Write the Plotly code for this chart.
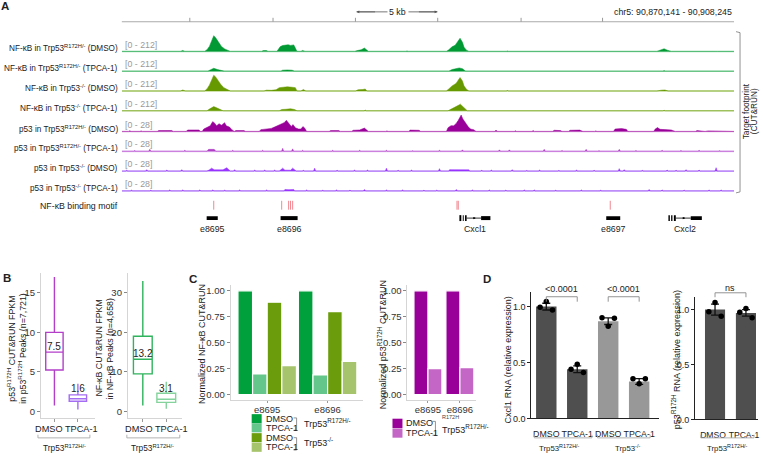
import plotly.graph_objects as go

W, H = 763, 460
FONT = "Arial, Liberation Sans, Helvetica, sans-serif"

# ====================== DATA ======================
# ---- Panel A: genome browser ----
chrom = "chr5"
region_start = 90870141
region_end = 90908245
region_len_kb = (region_end - region_start) / 1000.0
ruler_ticks_kb = [4.23, 9.41, 14.54, 19.66, 24.85, 29.92]
scale_bar_label = "5 kb"

track_labels = [
    "NF-κB in Trp53<sup>R172H/-</sup> (DMSO)",
    "NF-κB in Trp53<sup>R172H/-</sup> (TPCA-1)",
    "NF-κB in Trp53<sup>-/-</sup> (DMSO)",
    "NF-κB in Trp53<sup>-/-</sup> (TPCA-1)",
    "p53 in Trp53<sup>R172H/-</sup> (DMSO)",
    "p53 in Trp53<sup>R172H/-</sup> (TPCA-1)",
    "p53 in Trp53<sup>-/-</sup> (DMSO)",
    "p53 in Trp53<sup>-/-</sup> (TPCA-1)",
]
track_scale_max = [212, 212, 212, 212, 28, 28, 28, 28]
track_colors = ["#009933", "#009933", "#669900", "#669900",
                "#990099", "#b03cc6", "#9933ff", "#9933ff"]
track_base_colors = ["#a3ddb5", "#a3ddb5", "#c0da93", "#c0da93",
                     "#e3b3e5", "#ddb3ec", "#cfb5f7", "#cfb5f7"]

# coverage vertices (kb from region start, signal)
t1_peaks = [
    [(3.65, 0), (3.79, 12), (3.92, 0)],
    [(5.15, 0), (5.3, 20), (5.45, 60), (5.6, 140), (5.72, 188), (5.85, 160), (6.0, 110), (6.2, 60), (6.4, 30), (6.6, 15), (6.75, 0)],
    [(8.7, 0), (8.8, 10), (9.0, 10), (9.1, 0)],
    [(9.65, 0), (9.75, 25), (9.85, 55), (10.0, 70), (10.2, 75), (10.35, 80), (10.5, 72), (10.7, 78), (10.8, 40), (10.9, 0)],
    [(11.15, 0), (11.25, 12), (11.4, 0)],
    [(14.5, 0), (14.65, 10), (14.9, 20), (15.1, 40), (15.25, 10), (15.35, 0)],
    [(20.2, 0), (20.35, 20), (20.55, 55), (20.75, 75), (20.9, 110), (21.05, 157), (21.2, 110), (21.3, 50), (21.45, 15), (21.6, 0)],
    [(33.3, 0), (33.5, 15), (33.75, 32), (33.95, 15), (34.2, 0)],
]
t1_spikes = [(17.75, 5), (24.0, 5), (25.2, 4), (30.6, 6), (30.85, 5), (37.0, 3)]

t2_peaks = [
    [(5.35, 0), (5.5, 15), (5.72, 35), (5.95, 20), (6.2, 8), (6.4, 0)],
    [(9.9, 0), (10.0, 12), (10.3, 15), (10.6, 12), (10.75, 0)],
    [(20.35, 0), (20.55, 20), (20.8, 30), (21.0, 39), (21.2, 30), (21.4, 0)],
]
t2_spikes = [(8.9, 4), (15.1, 6), (33.75, 8)]

t3_peaks = [
    [(3.65, 0), (3.79, 12), (3.95, 0)],
    [(5.15, 0), (5.3, 25), (5.45, 70), (5.6, 150), (5.72, 188), (5.85, 165), (6.0, 120), (6.15, 80), (6.35, 40), (6.55, 20), (6.75, 0)],
    [(8.85, 0), (9.0, 10), (9.3, 8), (9.6, 15), (9.8, 40), (10.0, 45), (10.3, 50), (10.6, 45), (10.8, 40), (10.9, 0)],
    [(11.15, 0), (11.3, 18), (11.45, 0)],
    [(14.55, 0), (14.7, 15), (15.0, 18), (15.15, 24), (15.25, 0)],
    [(20.2, 0), (20.35, 25), (20.55, 60), (20.8, 90), (20.95, 130), (21.05, 160), (21.2, 120), (21.3, 60), (21.45, 20), (21.6, 0)],
    [(33.3, 0), (33.6, 10), (33.8, 12), (34.0, 0)],
]
t3_spikes = [(24.0, 6), (30.6, 6), (30.85, 5)]

t4_peaks = [
    [(5.3, 0), (5.45, 20), (5.6, 40), (5.72, 50), (5.9, 35), (6.1, 15), (6.3, 0)],
    [(9.8, 0), (9.95, 15), (10.2, 18), (10.5, 24), (10.75, 15), (10.9, 0)],
    [(20.3, 0), (20.5, 20), (20.75, 40), (20.95, 65), (21.07, 79), (21.2, 55), (21.35, 20), (21.5, 0)],
]
t4_spikes = [(15.15, 8), (33.75, 6)]

t5_peaks = [
    [(2.2, 0), (2.3, 1.5), (3.1, 1.6), (3.2, 0)],
    [(4.0, 0), (4.1, 2.5), (4.5, 3.1), (4.8, 2.5), (4.9, 0)],
    [(5.0, 0), (5.1, 4), (5.3, 7), (5.5, 9), (5.65, 15.6), (5.75, 14), (5.9, 9), (6.05, 12.4), (6.2, 10), (6.4, 14), (6.5, 9), (6.7, 7), (6.85, 3), (6.95, 0)],
    [(7.0, 0), (7.1, 1.5), (7.6, 1.5), (7.7, 0)],
    [(8.55, 0), (8.65, 3), (9.0, 4), (9.3, 5), (9.5, 7), (9.7, 9), (9.9, 12), (10.1, 14), (10.24, 17.6), (10.4, 13), (10.55, 8), (10.65, 10.9), (10.8, 6), (11.0, 4), (11.15, 4), (11.27, 7.8), (11.4, 5), (11.5, 0)],
    [(12.9, 0), (13.0, 1.5), (13.5, 1.5), (13.6, 0)],
    [(14.3, 0), (14.4, 2), (14.8, 2.5), (15.1, 5.4), (15.25, 2.5), (15.35, 0)],
    [(17.85, 0), (17.95, 2.3), (18.5, 2), (18.6, 0)],
    [(20.2, 0), (20.3, 6), (20.49, 9.3), (20.65, 9), (20.8, 12.4), (20.95, 18), (21.12, 26), (21.22, 20), (21.32, 15.6), (21.45, 10), (21.55, 7.8), (21.7, 4), (21.9, 3), (22.05, 0)],
    [(26.8, 0), (26.92, 2), (27.3, 1.5), (27.4, 0)],
    [(27.8, 0), (27.9, 2), (28.5, 2.3), (28.7, 0)],
    [(30.6, 0), (30.7, 4), (31.1, 4.7), (31.4, 3.5), (31.5, 0)],
    [(33.1, 0), (33.2, 4), (33.34, 6.2), (33.5, 3.5), (33.8, 3.1), (34.2, 2.5), (34.45, 0)],
    [(35.7, 0), (35.8, 1.5), (36.1, 0)],
    [(36.3, 0), (36.5, 1), (37.0, 1), (37.1, 0)],
]
t5_spikes = [(0.5, 1.2), (1.2, 1.0), (12.3, 1.0), (16.5, 1.0), (19.2, 1.0), (23.29, 2.3), (24.5, 1.2), (25.6, 1.5), (29.5, 1.0)]

t6_peaks = [
    [(5.3, 0), (5.4, 3.1), (5.75, 3.1), (5.85, 0)],
]
t6_spikes = [(0.8, 1.2), (1.74, 3.1), (2.6, 1.0), (3.92, 1.6), (6.9, 1.6), (8.76, 1.6), (10.01, 4.7), (10.63, 3.9),
             (11.25, 1.6), (12.4, 1.0), (13.12, 1.6), (14.8, 1.6), (16.47, 1.6), (18.1, 1.0), (19.77, 1.6), (21.2, 2.3),
             (22.3, 1.0), (23.5, 2.3), (24.12, 2.3), (25.2, 1.0), (26.29, 3.1), (27.4, 1.2), (28.9, 3.1), (29.7, 1.0),
             (30.96, 3.1), (32.0, 1.2), (33.63, 1.6), (34.8, 1.2), (35.93, 1.6), (37.2, 1.0)]

t7_peaks = [
    [(5.3, 0), (5.45, 2), (5.59, 4.7), (5.75, 2), (5.95, 2), (6.09, 3.1), (6.3, 2), (6.53, 5.4), (6.65, 1.5), (6.75, 0)],
    [(9.8, 0), (9.85, 1.5), (10.01, 4.7), (10.15, 1.5), (10.5, 1.5), (10.63, 4.7), (10.75, 1.5), (10.85, 0)],
    [(20.35, 0), (20.4, 2.3), (20.8, 2.0), (21.1, 2.5), (21.6, 2.0), (21.65, 0)],
]
t7_spikes = [(0.3, 1.5), (1.55, 2.3), (2.8, 1.6), (3.73, 2.3), (7.02, 2.3), (8.27, 1.6), (8.89, 1.6), (9.51, 1.6),
             (11.3, 1.2), (12.0, 4.7), (13.4, 1.2), (14.48, 1.6), (15.29, 1.6), (16.47, 4.7), (17.2, 1.2), (18.03, 1.6),
             (19.77, 3.9), (22.4, 1.2), (23.0, 1.6), (24.3, 2.3), (25.2, 1.0), (26.0, 1.6), (27.2, 1.0), (28.3, 1.6),
             (29.4, 1.2), (30.96, 3.9), (31.27, 2.3), (32.4, 1.2), (33.94, 1.6), (34.5, 1.2), (35.12, 2.3), (35.93, 1.6),
             (36.99, 5.4)]

t8_peaks = [
    [(10.1, 0), (10.15, 2.3), (10.4, 2.0), (10.7, 2.3), (10.75, 0)],
]
t8_spikes = [(0.6, 1.2), (1.8, 1.0), (2.98, 1.6), (3.79, 1.6), (4.85, 1.6), (5.66, 1.6), (6.4, 1.2), (7.33, 1.6),
             (8.2, 1.0), (9.01, 1.6), (11.5, 1.6), (12.5, 1.0), (13.36, 1.6), (14.2, 1.2), (15.1, 2.3), (16.47, 1.6),
             (17.47, 1.6), (18.8, 1.0), (19.6, 1.2), (20.82, 2.3), (21.82, 1.6), (22.87, 1.6), (23.9, 1.2), (25.05, 1.6),
             (25.67, 1.6), (27.0, 1.0), (28.6, 1.6), (29.8, 1.0), (31.3, 1.0), (32.82, 2.3), (33.63, 1.6), (35.0, 1.2),
             (36.55, 1.6), (37.3, 1.6)]

track_peaks = [t1_peaks, t2_peaks, t3_peaks, t4_peaks, t5_peaks, t6_peaks, t7_peaks, t8_peaks]
track_spikes = [t1_spikes, t2_spikes, t3_spikes, t4_spikes, t5_spikes, t6_spikes, t7_spikes, t8_spikes]

motif_label = "NF-κB binding motif"
motif_kb = [5.72, 9.95, 10.38, 10.5, 10.63, 20.86, 20.94, 30.4]
enh_names = ["e8695", "e8696", "e8697"]
enh_start = [5.28, 9.88, 30.15]
enh_end = [5.97, 10.94, 31.02]
gene_names = ["Cxcl1", "Cxcl2"]
gene_exons = [
    [(21.01, 21.13), (21.22, 21.28), (21.36, 21.46), (22.36, 22.94)],
    [(34.02, 34.11), (34.19, 34.27), (34.36, 34.48), (35.41, 36.10)],
]

# ---- Panel B: box plots ----
b_groups = ["DMSO", "TPCA-1"]
b_p53_lo = [0.75, 0.25]
b_p53_q1 = [5.25, 1.3]
b_p53_med = [7.5, 1.6]
b_p53_q3 = [10.0, 2.1]
b_p53_hi = [17.0, 3.5]
b_nfkb_lo = [1.5, 0.7]
b_nfkb_q1 = [9.5, 2.3]
b_nfkb_med = [13.2, 3.1]
b_nfkb_q3 = [19.0, 4.6]
b_nfkb_hi = [33.0, 7.5]
b_p53_colors = ["#b33fc9", "#a36cf2"]
b_nfkb_colors = ["#2fb35c", "#84d39c"]
b_p53_ticks = [0, 5, 10, 15]
b_nfkb_ticks = [0, 10, 20, 30]

# ---- Panel C: normalized CUT&RUN ----
c_sites = ["e8695", "e8696"]
c_nfkb_conditions = ["DMSO", "TPCA-1", "DMSO", "TPCA-1"]
c_nfkb_values = [[1.00, 1.00], [0.20, 0.19], [0.89, 0.80], [0.28, 0.32]]
c_nfkb_colors = ["#00a03c", "#64c68a", "#6a9c0c", "#a6c46c"]
c_p53_conditions = ["DMSO", "TPCA-1"]
c_p53_values = [[1.00, 1.00], [0.25, 0.26]]
c_p53_colors = ["#990099", "#c466c6"]
c_ticks = [0, 0.25, 0.5, 0.75, 1.0]

# ---- Panel D: RNA ----
d_conditions = ["DMSO", "TPCA-1", "DMSO", "TPCA-1"]
d_cxcl1_mean = [1.00, 0.44, 0.87, 0.33]
d_cxcl1_sem = [0.03, 0.03, 0.03, 0.025]
d_cxcl1_reps = [[0.995, 0.97, 1.045], [0.44, 0.41, 0.485], [0.90, 0.895, 0.825], [0.355, 0.355, 0.31]]
d_cxcl1_colors = ["#4f4f4f", "#4f4f4f", "#989898", "#989898"]
d_cxcl1_p = ["<0.0001", "<0.0001"]
d_p53_conditions = ["DMSO", "TPCA-1"]
d_p53_mean = [1.00, 0.97]
d_p53_sem = [0.05, 0.03]
d_p53_reps = [[0.98, 0.94, 1.065], [0.975, 0.925, 1.01]]
d_p53_colors = ["#4f4f4f", "#4f4f4f"]
d_p53_p = "ns"
d_ticks = [0, 0.5, 1.0]

# ====================== HELPERS ======================
def PX(px):
    return px / W


def PY(py):
    return 1 - py / H


fig = go.Figure()
shapes = []
ann = []
layout_axes = {}


def text(px, py, s, size=9, color="#222", xanchor="center", yanchor="middle", angle=0):
    ann.append(dict(x=PX(px), y=PY(py), xref="paper", yref="paper", text=s, showarrow=False,
                    xanchor=xanchor, yanchor=yanchor, textangle=angle,
                    font=dict(size=size, color=color, family=FONT)))


def pline(x0, y0, x1, y1, color="#999", width=1):
    shapes.append(dict(type="line", xref="paper", yref="paper", x0=PX(x0), y0=PY(y0), x1=PX(x1), y1=PY(y1),
                       line=dict(color=color, width=width)))


def ppath(points, color="#999", width=1):
    d = "M " + " L ".join(f"{PX(a):.5f},{PY(b):.5f}" for a, b in points)
    shapes.append(dict(type="path", xref="paper", yref="paper", path=d, line=dict(color=color, width=width)))


def prect(x0, y0, x1, y1, color):
    shapes.append(dict(type="rect", xref="paper", yref="paper", x0=PX(x0), y0=PY(y1), x1=PX(x1), y1=PY(y0),
                       fillcolor=color, line=dict(width=0)))


def build_track(peaks, spikes, half_w=0.07):
    pts = [p for pk in peaks for p in pk]
    for c, h in spikes:
        pts += [(c - half_w, 0.0), (c, h), (c + half_w, 0.0)]
    pts.sort(key=lambda p: p[0])
    xs = [0.0] + [p[0] for p in pts] + [region_len_kb]
    ys = [0.0] + [p[1] for p in pts] + [0.0]
    return xs, ys


# ====================== PANEL A ======================
TRACK_X0, TRACK_X1 = 122, 735
track_baseline_px = [52, 72, 92, 112, 133, 153, 173, 193]
TRACK_H = 18

layout_axes["xaxis"] = dict(domain=[PX(TRACK_X0), PX(TRACK_X1)], range=[0, region_len_kb], visible=False,
                            anchor="y", fixedrange=True)
for k in range(8):
    n = k + 1
    yid = "y" if n == 1 else f"y{n}"
    ykey = "yaxis" if n == 1 else f"yaxis{n}"
    b = track_baseline_px[k]
    S = track_scale_max[k]
    lo = -S * 1.5 / TRACK_H
    layout_axes[ykey] = dict(domain=[PY(b + 1.5), PY(b - TRACK_H)], range=[lo, S], visible=False,
                             anchor="x", fixedrange=True)
    shapes.append(dict(type="line", xref="x", yref=yid, x0=0, x1=region_len_kb, y0=0, y1=0, layer="below",
                       line=dict(color=track_base_colors[k], width=1.6)))
    xs, ys = build_track(track_peaks[k], track_spikes[k])
    fig.add_trace(go.Scatter(x=xs, y=ys, mode="lines", fill="tozeroy", fillcolor=track_colors[k],
                             line=dict(color=track_colors[k], width=0.5), xaxis="x", yaxis=yid,
                             hoverinfo="skip"))
    text(120, b - 3, track_labels[k], size=8.2, xanchor="right")
    text(123, b - 7, f"[0 - {S}]", size=8.8, color="#9a9a9a", xanchor="left")

# ruler
pline(TRACK_X0, 22, TRACK_X1, 22, color="#aaaaaa", width=1)
for t in ruler_ticks_kb:
    shapes.append(dict(type="line", xref="x", yref="paper", x0=t, x1=t, y0=PY(22), y1=PY(18),
                       line=dict(color="#999999", width=1)))
# scale bar
text(398, 12, scale_bar_label, size=8.8)
pline(357, 12, 388, 12, color="#555", width=0.8)
pline(409, 12, 438, 12, color="#555", width=0.8)
ann.append(dict(x=PX(357), y=PY(12), xref="paper", yref="paper", ax=20, ay=0, text="", showarrow=True,
                arrowhead=2, arrowsize=0.7, arrowwidth=0.8, arrowcolor="#555"))
ann.append(dict(x=PX(438), y=PY(12), xref="paper", yref="paper", ax=-20, ay=0, text="", showarrow=True,
                arrowhead=2, arrowsize=0.7, arrowwidth=0.8, arrowcolor="#555"))
text(735, 12, f"{chrom}: {region_start:,} - {region_end:,}", size=8.8, xanchor="right")

# right bracket
ppath([(737, 32), (741, 33), (741, 194), (737, 195)], color="#777", width=0.8)
text(746.5, 113, "Target footprint", size=8.3, angle=-90)
text(754.5, 113, "(CUT&RUN)", size=8.3, angle=-90)

# motifs
text(120, 208, motif_label, size=8.8, xanchor="right")
for m in motif_kb:
    shapes.append(dict(type="line", xref="x", yref="paper", x0=m, x1=m, y0=PY(212), y1=PY(203),
                       line=dict(color="#ee7b85", width=0.9)))
# enhancers
for nm, s0, s1 in zip(enh_names, enh_start, enh_end):
    shapes.append(dict(type="rect", xref="x", yref="paper", x0=s0, x1=s1, y0=PY(222.5), y1=PY(218.5),
                       fillcolor="black", line=dict(width=0)))
    ann.append(dict(x=(s0 + s1) / 2, y=PY(232), xref="x", yref="paper", text=nm, showarrow=False,
                    font=dict(size=8.8, color="#222", family=FONT)))
# genes
for nm, exons in zip(gene_names, gene_exons):
    g0, g1 = exons[0][0], exons[-1][1]
    shapes.append(dict(type="line", xref="x", yref="paper", x0=exons[2][1], x1=exons[3][0], y0=PY(220.5),
                       y1=PY(220.5), line=dict(color="black", width=0.8)))
    for i, (e0, e1) in enumerate(exons):
        top, bot = (217.5, 223.5) if i < 3 else (218.5, 222.5)
        shapes.append(dict(type="rect", xref="x", yref="paper", x0=e0, x1=e1, y0=PY(bot), y1=PY(top),
                           fillcolor="black", line=dict(width=0)))
    mid = (exons[2][1] + exons[3][0]) / 2
    ann.append(dict(x=mid + 0.12, y=PY(220.5), xref="x", yref="paper", ax=-4, ay=0, text="",
                    showarrow=True, arrowhead=2, arrowsize=0.6, arrowwidth=0.8, arrowcolor="black"))
    ann.append(dict(x=(g0 + g1) / 2, y=PY(232), xref="x", yref="paper", text=nm, showarrow=False,
                    font=dict(size=8.8, color="#222", family=FONT)))

# ====================== PANEL B ======================
def light_y(dom_px, rng, tickvals, ticktext, anchor, linecolor="#d5d5d5", size=9.5):
    return dict(domain=[PY(dom_px[1]), PY(dom_px[0])], range=rng, anchor=anchor, showline=True,
                linecolor=linecolor, linewidth=1, ticks="outside", ticklen=3, tickcolor="#888",
                tickvals=tickvals, ticktext=ticktext, tickfont=dict(size=size, color="#333", family=FONT),
                showgrid=False, zeroline=False, fixedrange=True)


def light_x(dom_px, rng, anchor, showlabels=False, cats=None, linecolor="#d5d5d5", ticklen=3, standoff=0):
    d = dict(domain=[PX(dom_px[0]), PX(dom_px[1])], range=rng, anchor=anchor, showline=True,
             linecolor=linecolor, linewidth=1, ticks="outside", ticklen=ticklen, tickcolor="#999",
             showticklabels=showlabels, tickfont=dict(size=9.5, color="#333", family=FONT),
             ticklabelstandoff=standoff, tickangle=0, ticklabeloverflow="allow",
             showgrid=False, zeroline=False, fixedrange=True)
    if cats is not None:
        d.update(type="category", categoryorder="array", categoryarray=cats)
    return d


layout_axes["xaxis2"] = light_x((41, 95), [-0.574, 1.723], "y9", cats=b_groups)
layout_axes["yaxis9"] = light_y((276, 423), [-0.875, 17.5], b_p53_ticks, [str(t) for t in b_p53_ticks], "x2")
layout_axes["xaxis3"] = light_x((128, 182), [-0.638, 1.66], "y10", cats=b_groups)
layout_axes["yaxis10"] = light_y((276, 423), [-1.75, 35], b_nfkb_ticks, [str(t) for t in b_nfkb_ticks], "x3")

for i, g in enumerate(b_groups):
    fig.add_trace(go.Box(x=[g], q1=[b_p53_q1[i]], median=[b_p53_med[i]], q3=[b_p53_q3[i]],
                         lowerfence=[b_p53_lo[i]], upperfence=[b_p53_hi[i]], boxpoints=False,
                         line=dict(color=b_p53_colors[i], width=1.4), fillcolor="rgba(255,255,255,0)",
                         width=0.74, whiskerwidth=0, xaxis="x2", yaxis="y9", hoverinfo="skip"))
    fig.add_trace(go.Box(x=[g], q1=[b_nfkb_q1[i]], median=[b_nfkb_med[i]], q3=[b_nfkb_q3[i]],
                         lowerfence=[b_nfkb_lo[i]], upperfence=[b_nfkb_hi[i]], boxpoints=False,
                         line=dict(color=b_nfkb_colors[i], width=1.4), fillcolor="rgba(255,255,255,0)",
                         width=0.8, whiskerwidth=0, xaxis="x3", yaxis="y10", hoverinfo="skip"))

# median labels
ann.append(dict(x=0, y=b_p53_med[0] + 0.75, xref="x2", yref="y9", text=f"{b_p53_med[0]}", showarrow=False,
                font=dict(size=10, color="#222", family=FONT)))
ann.append(dict(x=1, y=b_p53_hi[1] - 0.6, xref="x2", yref="y9", text=f"{b_p53_med[1]}", showarrow=False,
                font=dict(size=10, color="#222", family=FONT)))
ann.append(dict(x=0, y=b_nfkb_med[0] + 1.5, xref="x3", yref="y10", text=f"{b_nfkb_med[0]}", showarrow=False,
                font=dict(size=10, color="#222", family=FONT)))
ann.append(dict(x=1, y=b_nfkb_hi[1] - 1.8, xref="x3", yref="y10", text=f"{b_nfkb_med[1]}", showarrow=False,
                font=dict(size=10, color="#222", family=FONT)))

text(11.5, 352, "p53<sup>R172H</sup> CUT&RUN FPKM", size=8.8, angle=-90)
text(22.5, 352, "in p53<sup>R172H</sup> Peaks (n=7,721)", size=8.8, angle=-90)
text(99.5, 352, "NF-κB CUT&RUN FPKM", size=8.8, angle=-90)
text(110.5, 352, "in NF-κB Peaks (n=4,658)", size=8.8, angle=-90)
text(66.8, 434, "DMSO TPCA-1", size=9.2)
text(156.7, 434, "DMSO TPCA-1", size=9.2)
ppath([(38, 439.5), (38, 442.7), (90, 442.7), (90, 439.5)], color="#aaa", width=0.9)
ppath([(127, 439.5), (127, 442.7), (180, 442.7), (180, 439.5)], color="#aaa", width=0.9)
text(65, 453, "Trp53<sup>R172H/-</sup>", size=8.3)
text(153, 453, "Trp53<sup>R172H/-</sup>", size=8.3)

# ====================== PANEL C ======================
layout_axes["xaxis4"] = light_x((231, 363), [-0.603, 1.579], "y11", showlabels=True, cats=c_sites, ticklen=2,
                                standoff=-1)
layout_axes["yaxis11"] = light_y((288, 404), [-0.0476, 1.057], c_ticks, [f"{t:.2f}" for t in c_ticks], "x4")
layout_axes["xaxis5"] = light_x((408, 477), [-0.64, 1.516], "y12", showlabels=True, cats=c_sites, ticklen=2,
                                standoff=-1)
layout_axes["yaxis12"] = light_y((288, 404), [-0.0476, 1.057], c_ticks, [f"{t:.2f}" for t in c_ticks], "x5")

for i, vals in enumerate(c_nfkb_values):
    fig.add_trace(go.Bar(x=c_sites, y=vals, offset=-0.483 + i * 0.242, width=0.242,
                         marker=dict(color=c_nfkb_colors[i], line=dict(color="white", width=1.2)),
                         xaxis="x4", yaxis="y11", hoverinfo="skip"))
for i, vals in enumerate(c_p53_values):
    fig.add_trace(go.Bar(x=c_sites, y=vals, offset=-0.437 + i * 0.437, width=0.437,
                         marker=dict(color=c_p53_colors[i], line=dict(color="white", width=1.2)),
                         xaxis="x5", yaxis="y12", hoverinfo="skip"))

text(202, 348, "Normalized NF-κB CUT&RUN", size=9, angle=-90)
text(382.5, 348, "Normalized p53<sup>R172H</sup> CUT&RUN", size=9, angle=-90)

# legend C1
c1_rows = [423.3, 432.5, 442.5, 452.2]
for i, yc in enumerate(c1_rows):
    prect(252, yc - 4.6, 262, yc + 4.6, c_nfkb_colors[i])
    text(264, yc, c_nfkb_conditions[i], size=9, xanchor="left")
ppath([(294, 422.5), (297, 422.5), (297, 435), (294, 435)], color="#777", width=0.8)
ppath([(294, 442.5), (297, 442.5), (297, 455), (294, 455)], color="#777", width=0.8)
text(302, 428, "Trp53<sup>R172H/-</sup>", size=9, xanchor="left")
text(302, 447, "Trp53<sup>-/-</sup>", size=9, xanchor="left")
# legend C2
c2_rows = [428.0, 437.8]
for i, yc in enumerate(c2_rows):
    prect(393, yc - 4.7, 403, yc + 4.7, c_p53_colors[i])
    text(405, yc, c_p53_conditions[i], size=9, xanchor="left")
ppath([(433, 426), (436, 426), (436, 440), (433, 440)], color="#777", width=0.8)
text(441, 434, "Trp53<sup>R172H/-</sup>", size=9, xanchor="left")
text(451, 421.5, "R172H", size=5.5, color="#444")

# ====================== PANEL D ======================
def dark_y(dom_px, rng, anchor):
    return dict(domain=[PY(dom_px[1]), PY(dom_px[0])], range=rng, anchor=anchor, showline=True,
                linecolor="#222", linewidth=1.1, ticks="outside", ticklen=3, tickcolor="#222", tickwidth=1.1,
                tickvals=d_ticks, ticktext=[f"{t:.1f}" for t in d_ticks],
                tickfont=dict(size=9, color="#222", family=FONT),
                showgrid=False, zeroline=False, fixedrange=True)


def dark_x(dom_px, rng, anchor, n, labels, size=8.8, shift=0):
    return dict(domain=[PX(dom_px[0]), PX(dom_px[1])], range=rng, anchor=anchor, showline=True,
                linecolor="#222", linewidth=1.1, ticks="", tickvals=list(range(n)), ticktext=labels,
                tickangle=0, tickfont=dict(size=size, color="#222", family=FONT), ticklabelstandoff=7,
                ticklabelshift=shift, ticklabeloverflow="allow", showgrid=False, zeroline=False, fixedrange=True)


layout_axes["xaxis6"] = dark_x((532, 660), [-0.484, 3.645], "y13", 4, d_conditions)
layout_axes["yaxis13"] = dark_y((295, 423), [0, 1.1327], "x6")
layout_axes["xaxis7"] = dark_x((696, 759), [-0.645, 1.39], "y14", 2, d_p53_conditions, size=8.6, shift=-2)
layout_axes["yaxis14"] = dark_y((300, 424), [0, 1.117], "x7")

jit = [-0.2, 0.2, 0.0]
fig.add_trace(go.Bar(x=list(range(4)), y=d_cxcl1_mean, width=0.66, marker=dict(color=d_cxcl1_colors, line=dict(width=0)),
                     error_y=dict(type="data", array=d_cxcl1_sem, color="#111", thickness=1.3, width=4),
                     cliponaxis=False, xaxis="x6", yaxis="y13", hoverinfo="skip"))
for i, reps in enumerate(d_cxcl1_reps):
    fig.add_trace(go.Scatter(x=[i + j for j in jit], y=reps, mode="markers", cliponaxis=False,
                             marker=dict(color="black", size=5.5), xaxis="x6", yaxis="y13", hoverinfo="skip"))
fig.add_trace(go.Bar(x=list(range(2)), y=d_p53_mean, width=0.65, marker=dict(color=d_p53_colors, line=dict(width=0)),
                     error_y=dict(type="data", array=d_p53_sem, color="#111", thickness=1.3, width=4),
                     cliponaxis=False, xaxis="x7", yaxis="y14", hoverinfo="skip"))
for i, reps in enumerate(d_p53_reps):
    fig.add_trace(go.Scatter(x=[i + j for j in jit], y=reps, mode="markers", cliponaxis=False,
                             marker=dict(color="black", size=5.5), xaxis="x7", yaxis="y14", hoverinfo="skip"))


def sig_bracket(xref, a, b, ytop_px, drop_px, label, label_py):
    d = (f"M {a},{PY(ytop_px + drop_px):.5f} L {a},{PY(ytop_px):.5f} "
         f"L {b},{PY(ytop_px):.5f} L {b},{PY(ytop_px + drop_px):.5f}")
    shapes.append(dict(type="path", xref=xref, yref="paper", path=d, line=dict(color="#888", width=0.9)))
    ann.append(dict(x=(a + b) / 2, y=PY(label_py), xref=xref, yref="paper", text=label, showarrow=False,
                    font=dict(size=9, color="#222", family=FONT)))


sig_bracket("x6", 0, 1, 300, 5, d_cxcl1_p[0], 292.5)
sig_bracket("x6", 2, 3, 300, 5, d_cxcl1_p[1], 292.5)
sig_bracket("x7", 0, 1, 296, 4.5, d_p53_p, 291)

text(509, 364, "Cxcl1 RNA (relative expression)", size=9, angle=-90)
text(677, 364, "p53<sup>R172H</sup> RNA (relative expression)", size=9, angle=-90)
ppath([(535, 439.5), (535, 442.7), (592.7, 442.7), (592.7, 439.5)], color="#aaa", width=0.9)
ppath([(598.3, 439.5), (598.3, 442.7), (651, 442.7), (651, 439.5)], color="#aaa", width=0.9)
ppath([(701.7, 439.5), (701.7, 442.7), (755, 442.7), (755, 439.5)], color="#aaa", width=0.9)
text(560, 453, "Trp53<sup>R172H/-</sup>", size=7.8)
text(628, 453, "Trp53<sup>-/-</sup>", size=7.8)
text(728, 453, "Trp53<sup>R172H/-</sup>", size=7.8)

# panel letters
text(5.5, 6, "<b>A</b>", size=11.5)
text(7, 281, "<b>B</b>", size=11.5)
text(193.5, 282, "<b>C</b>", size=11.5)
text(488, 282, "<b>D</b>", size=11.5)

fig.update_layout(width=W, height=H, margin=dict(l=0, r=0, t=0, b=0), paper_bgcolor="white",
                  plot_bgcolor="white", showlegend=False, barmode="overlay",
                  font=dict(family=FONT, size=9, color="#222"), shapes=shapes, annotations=ann,
                  **layout_axes)
fig.write_html("out.html", config={"displayModeBar": False},
               post_script="document.body.style.margin='0px';document.body.style.overflow='hidden';")
